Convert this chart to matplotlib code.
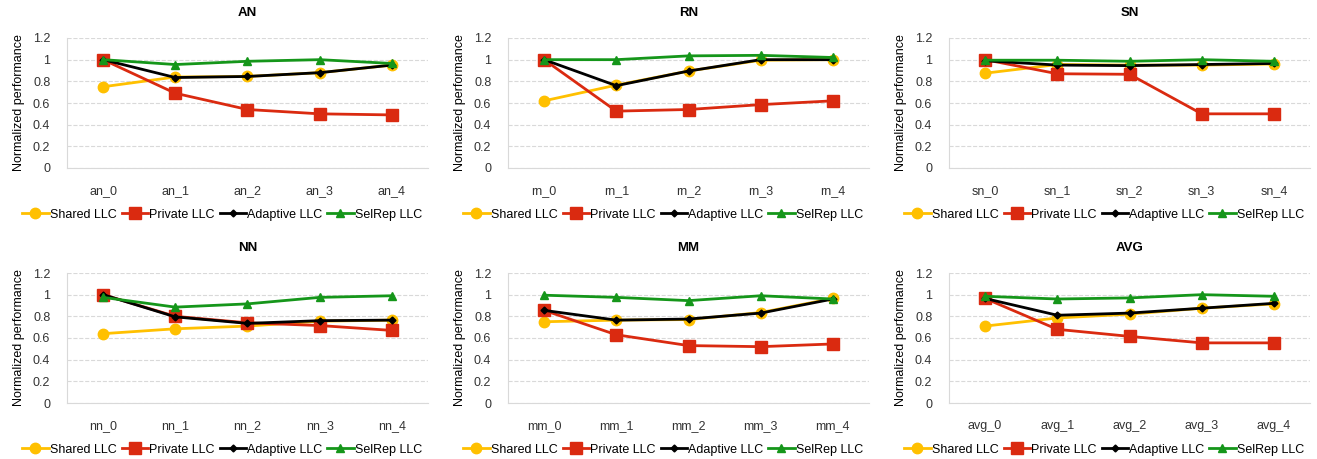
import matplotlib
matplotlib.use("Agg")
import matplotlib.pyplot as plt
from matplotlib.ticker import FuncFormatter

plt.rcParams['font.family'] = ['Liberation Sans', 'DejaVu Sans']

series_names = ['Shared LLC', 'Private LLC', 'Adaptive LLC', 'SelRep LLC']
panel_titles = ['AN', 'RN', 'SN', 'NN', 'MM', 'AVG']
prefixes = ['an', 'rn', 'sn', 'nn', 'mm', 'avg']

# values per panel: shared, private, adaptive, selrep
an_shared = [0.75, 0.84, 0.845, 0.88, 0.95]
an_private = [1.0, 0.69, 0.54, 0.50, 0.49]
an_adaptive = [1.0, 0.835, 0.845, 0.88, 0.95]
an_selrep = [1.0, 0.955, 0.985, 1.0, 0.965]

rn_shared = [0.62, 0.765, 0.895, 0.995, 1.0]
rn_private = [1.0, 0.525, 0.54, 0.585, 0.62]
rn_adaptive = [1.0, 0.76, 0.895, 1.0, 1.0]
rn_selrep = [1.0, 1.0, 1.035, 1.04, 1.02]

sn_shared = [0.875, 0.955, 0.95, 0.95, 0.96]
sn_private = [1.0, 0.87, 0.865, 0.50, 0.50]
sn_adaptive = [0.99, 0.95, 0.945, 0.955, 0.965]
sn_selrep = [0.995, 0.995, 0.985, 1.0, 0.985]

nn_shared = [0.64, 0.685, 0.71, 0.755, 0.765]
nn_private = [1.0, 0.80, 0.74, 0.715, 0.67]
nn_adaptive = [1.0, 0.795, 0.735, 0.76, 0.765]
nn_selrep = [0.975, 0.885, 0.915, 0.975, 0.99]

mm_shared = [0.75, 0.765, 0.77, 0.835, 0.965]
mm_private = [0.855, 0.63, 0.53, 0.52, 0.545]
mm_adaptive = [0.855, 0.765, 0.775, 0.83, 0.96]
mm_selrep = [0.995, 0.975, 0.945, 0.99, 0.96]

avg_shared = [0.71, 0.785, 0.82, 0.875, 0.915]
avg_private = [0.965, 0.68, 0.615, 0.555, 0.555]
avg_adaptive = [0.965, 0.81, 0.83, 0.875, 0.92]
avg_selrep = [0.985, 0.96, 0.97, 1.0, 0.985]

panels = [
    (an_shared, an_private, an_adaptive, an_selrep),
    (rn_shared, rn_private, rn_adaptive, rn_selrep),
    (sn_shared, sn_private, sn_adaptive, sn_selrep),
    (nn_shared, nn_private, nn_adaptive, nn_selrep),
    (mm_shared, mm_private, mm_adaptive, mm_selrep),
    (avg_shared, avg_private, avg_adaptive, avg_selrep),
]

colors = ['#FFC000', '#DA2A10', '#000000', '#15961A']
markers = ['o', 's', 'D', '^']
msizes = [7.5, 8, 3.5, 6]

W, H = 1317, 459
fig = plt.figure(figsize=(W / 100, H / 100), dpi=100)

lefts = [67, 508, 949]
tops = [38, 273]
pw, ph = 361, 130

for i, (title, prefix, data) in enumerate(zip(panel_titles, prefixes, panels)):
    r, c = divmod(i, 3)
    ax = fig.add_axes([lefts[c] / W, 1 - (tops[r] + ph) / H, pw / W, ph / H])
    cats = [f'{prefix}_{k}' for k in range(5)]
    x = range(len(cats))
    for vals, name, col, mk, ms in zip(data, series_names, colors, markers, msizes):
        ax.plot(x, vals, color=col, marker=mk, markersize=ms, linewidth=2,
                label=name, markeredgecolor=col)
    ax.set_xlim(-0.5, 4.5)
    ax.set_ylim(0, 1.2)
    ax.set_yticks([0, 0.2, 0.4, 0.6, 0.8, 1.0, 1.2])
    ax.yaxis.set_major_formatter(FuncFormatter(lambda v, p: f'{v:g}'))
    ax.set_xticks(list(x))
    ax.set_xticklabels(cats)
    ax.tick_params(length=0, labelsize=9, colors='#333333')
    ax.tick_params(axis='x', pad=12)
    ax.tick_params(axis='y', pad=12)
    ax.grid(axis='y', linestyle='--', color='#d9d9d9', linewidth=0.8)
    ax.set_axisbelow(True)
    for s in ['top', 'right']:
        ax.spines[s].set_visible(False)
    for s in ['left', 'bottom']:
        ax.spines[s].set_color('#d9d9d9')
    ax.set_title(title, fontsize=9.5, fontweight='bold', pad=16)
    ax.set_ylabel('Normalized performance', fontsize=9, labelpad=6)
    ax.legend(loc='center', bbox_to_anchor=(0.43, -0.36), ncol=4, frameon=False,
              fontsize=9, handlelength=2.1, columnspacing=0.4, handletextpad=0.1)

fig.savefig('out.png', dpi=100)
